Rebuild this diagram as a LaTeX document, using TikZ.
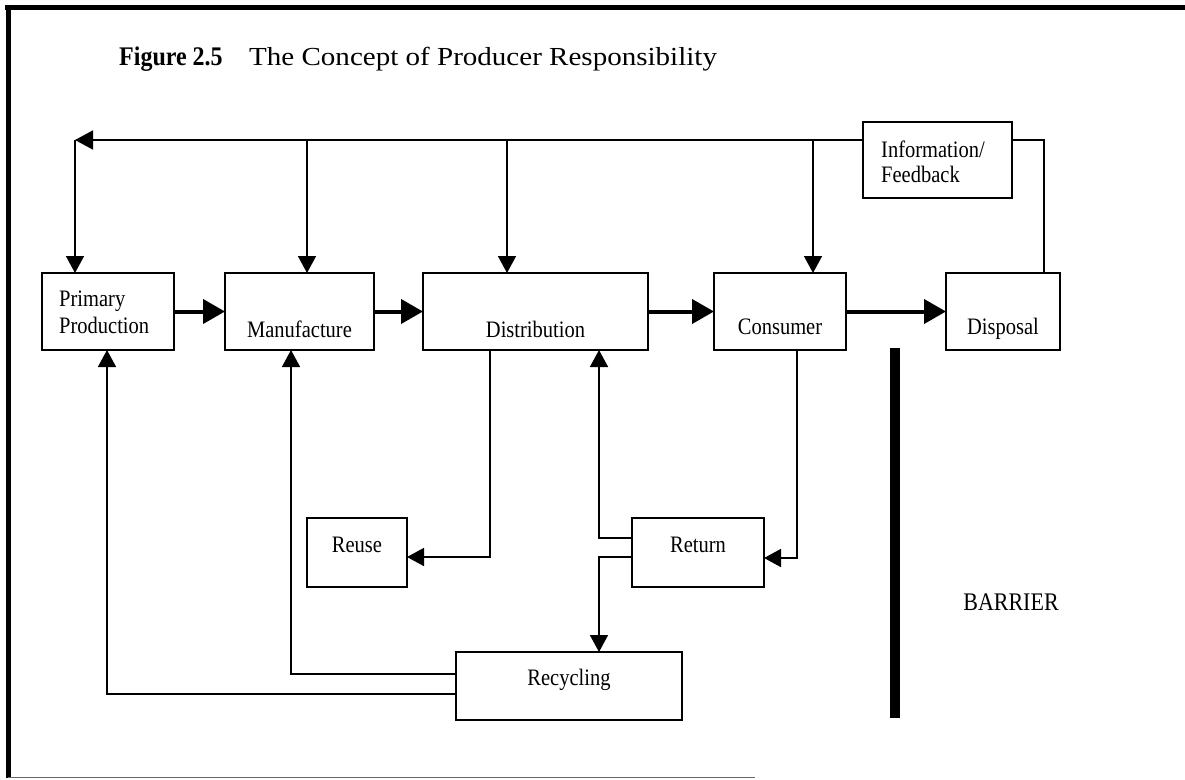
\documentclass[tikz,border=0pt]{standalone}
\usepackage{fontspec}
\setmainfont{Liberation Serif}
\newfontfamily\headfont[FakeStretch=1.117]{Liberation Serif}
\usetikzlibrary{arrows.meta}
% printed type runs a little tall
\newcommand\tall[1]{\scalebox{1}[1.15]{#1}}
\begin{document}
\begin{tikzpicture}[x=1pt,y=-1pt,
  box/.style={draw, rectangle, line width=1.8pt, inner sep=0pt, outer sep=0pt},
  lbl/.style={anchor=base, inner sep=0pt, font=\fontsize{20.5}{24}\selectfont},
  lblw/.style={lbl, anchor=base west},
  link/.style={line width=1.6pt},
  tip/.style={link, -{Triangle[length=17pt,width=18pt]}},
  flow/.style={line width=4pt, -{Triangle[length=22pt,width=24pt]}}]
\useasboundingbox (0,0) rectangle (1185,779);

% page frame
\draw[line width=5pt] (5,7) -- (1185,7);
\draw[line width=5pt] (8,5) -- (8,778);
\draw[line width=1.2pt, black!60] (8,777.5) -- (755,777.5);

% heading
\node[anchor=base west, inner sep=0pt, font=\fontsize{24}{28}\selectfont\bfseries] (fig) at (119,65) {\scalebox{1}[1.12]{Figure 2.5}};
\node[anchor=base west, inner sep=0pt, font=\headfont\fontsize{26}{30}\selectfont] (ttl) at (249,65) {The Concept of Producer Responsibility};

% main chain
\node[box, minimum width=132pt, minimum height=77pt] (pp) at (108,311.5) {};
\node[box, minimum width=149pt, minimum height=77pt] (mf) at (299.5,311.5) {};
\node[box, minimum width=225pt, minimum height=77pt] (di) at (535.5,311.5) {};
\node[box, minimum width=132pt, minimum height=77pt] (co) at (780,311.5) {};
\node[box, minimum width=114pt, minimum height=77pt] (dp) at (1003,311.5) {};
\node[box, minimum width=149pt, minimum height=76pt] (info) at (937.5,160) {};
\node[box, minimum width=100pt, minimum height=69pt] (ru) at (357,552.5) {};
\node[box, minimum width=132pt, minimum height=69pt] (rt) at (698,552.5) {};
\node[box, minimum width=226pt, minimum height=68pt] (rc) at (569,686) {};

\node[lblw] (ppA) at (59,306) {\tall{Primary}};
\node[lblw] (ppB) at (59,333) {\tall{Production}};
\node[lbl] (mfT) at (299.5,337) {\tall{Manufacture}};
\node[lbl] (diT) at (535.5,337) {\tall{Distribution}};
\node[lbl] (coT) at (780,334) {\tall{Consumer}};
\node[lbl] (dpT) at (1003,334) {\tall{Disposal}};
\node[lblw] (infoA) at (881,157) {\tall{Information/}};
\node[lblw] (infoB) at (881,182) {\tall{Feedback}};
\node[lbl] (ruT) at (357,552) {\tall{Reuse}};
\node[lbl] (rtT) at (698,552) {\tall{Return}};
\node[lbl] (rcT) at (569,685) {\tall{Recycling}};
\node[lbl, font=\fontsize{22}{26}\selectfont] (bar) at (1011,610) {\tall{BARRIER}};

% barrier
\coordinate (barTop) at (895,348);
\coordinate (barBot) at (895,718);
\draw[line width=10pt] (barTop) -- (barBot);

% forward flow
\draw[flow] (pp.east) -- (mf.west);
\draw[flow] (mf.east) -- (di.west);
\draw[flow] (di.east) -- (co.west);
\draw[flow] (co.east) -- (dp.west);

% information / feedback loop
\coordinate (fbL) at (75,140);
\coordinate (fb1) at (307,140);
\coordinate (fb2) at (507,140);
\coordinate (fb3) at (813,140);
\coordinate (fbR) at (1044,140);
\draw[link, -{Triangle[length=18pt,width=19pt]}] (info.west |- fbL) -- (fbL);
\draw[tip] (fbL) -- (pp.north -| fbL);
\draw[tip] (fb1) -- (mf.north -| fb1);
\draw[tip] (fb2) -- (di.north -| fb2);
\draw[tip] (fb3) -- (co.north -| fb3);
\draw[link] (info.east |- fbR) -- (fbR) -- (dp.north -| fbR);

% return routes
\coordinate (dReuse) at (490,0);
\coordinate (cRet) at (797,0);
\coordinate (rUp) at (599,0);
\coordinate (rcM) at (291,0);
\coordinate (rcP) at (107,0);
\draw[tip] (di.south -| dReuse) |- ([yshift=-4.5pt]ru.east);
\draw[tip] (co.south -| cRet) |- ([yshift=-5.5pt]rt.east);
\draw[tip] ([yshift=14.5pt]rt.west) -| (di.south -| rUp);
\draw[tip] ([yshift=-4.5pt]rt.west) -| (rc.north -| rUp);
\draw[tip] ([yshift=12pt]rc.west) -| (mf.south -| rcM);
\draw[tip] ([yshift=-8pt]rc.west) -| (pp.south -| rcP);
\end{tikzpicture}
\end{document}
